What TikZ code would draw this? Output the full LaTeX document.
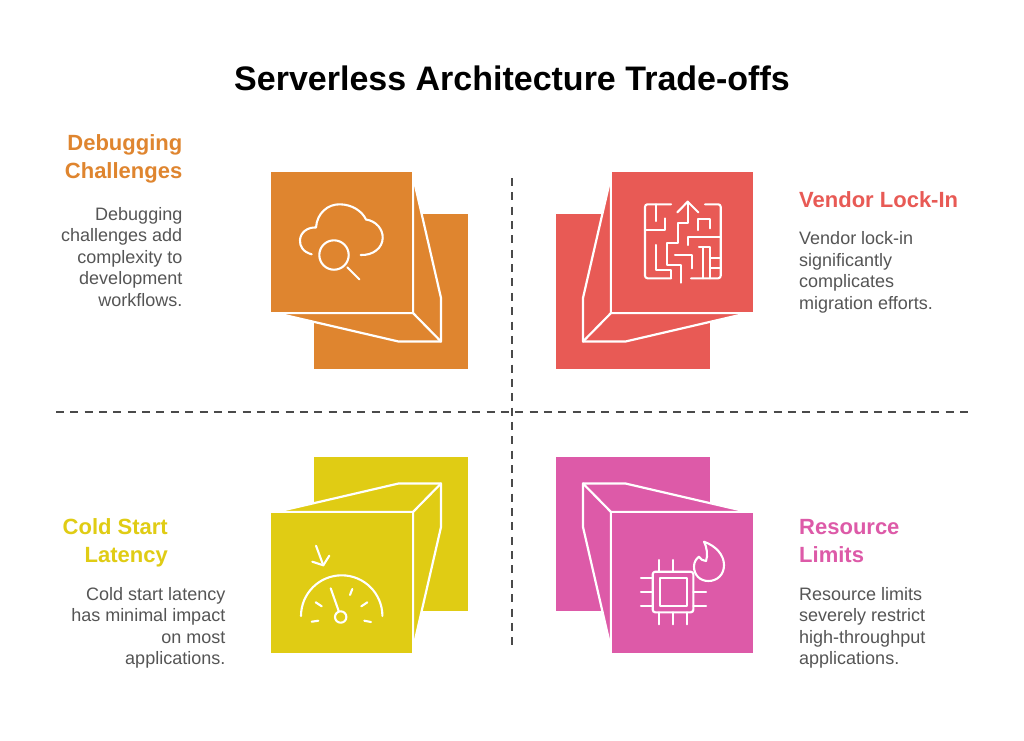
\documentclass[tikz,border=0pt]{standalone}
\usepackage{fontspec}
\setmainfont{Liberation Sans}
\usetikzlibrary{positioning}
\definecolor{debugcolor}{HTML}{DF852F}
\definecolor{vendorcolor}{HTML}{E85A55}
\definecolor{coldcolor}{HTML}{E0CC14}
\definecolor{limitcolor}{HTML}{DD5AA8}
\definecolor{bodygray}{HTML}{555555}
\definecolor{dashgray}{HTML}{4A4A4A}
\newcommand{\tradecard}[2]{
  \begin{scope}[#2]
    \fill[#1] (314,214) rectangle (468.3,368.5);
    \fill[#1] (412,172) -- (441,298) -- (441,341.5) -- (398.5,341.5) -- (271.5,312) -- cycle;
    \draw[cardline] (412,172) -- (441,298) -- (441,341.5) -- (398.5,341.5) -- (271.5,312);
    \draw[cardline] (413,172) -- (413,313) -- (271,313) (413,313) -- (441,341.5);
    \fill[#1] (271.3,172) rectangle (412,312);
  \end{scope}
}
\tikzset{
  cardline/.style={draw=white,line width=2.2pt,line cap=round,line join=round},
  iconline/.style={draw=white,line width=2.1pt,line cap=round,line join=round},
  headtext/.style={font=\fontsize{22}{28}\selectfont\bfseries,inner sep=0pt},
  bodytext/.style={font=\fontsize{18}{21.5}\selectfont,text=bodygray,inner sep=0pt},
  axisline/.style={dashgray,line width=2.2pt,dash pattern=on 8pt off 6.35pt}
}
\begin{document}
\begin{tikzpicture}[x=1pt,y=-1pt]
  \useasboundingbox[fill=white] (0,0) rectangle (1024,740);
  \node[font=\fontsize{34}{40}\selectfont\bfseries,inner sep=0pt] (title) at (512,78) {Serverless Architecture Trade-offs};

  \draw[axisline] (56,412) -- (968,412);
  \draw[axisline] (512,178) -- (512,648);

  \tradecard{debugcolor}{}
  \tradecard{vendorcolor}{xshift=1024pt,xscale=-1}
  \tradecard{coldcolor}{yshift=-825pt,yscale=-1}
  \tradecard{limitcolor}{xshift=1024pt,xscale=-1,yshift=-825pt,yscale=-1}

  % cloud
  \draw[iconline] (311.7,254.3) .. controls (303,252) and (299.5,246) .. (300,240)
    .. controls (300.5,232) and (308,227) .. (316,227.5)
    .. controls (317,213) and (328,204) .. (340,204.3)
    .. controls (352,204.5) and (362,211) .. (366,219.5)
    .. controls (376,221) and (383,229) .. (382.7,238)
    .. controls (382.5,248) and (373,255.5) .. (360.7,255);
  \draw[iconline] (334,255) circle (14.7);
  \draw[iconline] (347.3,267.3) -- (359.3,279.3);

  % maze
  \begin{scope}[iconline]
    \draw[rounded corners=2.5pt] (671,204.3) -- (645,204.3) -- (645,278.3) -- (671,278.3);
    \draw[rounded corners=2.5pt] (705,204.3) -- (720.7,204.3) -- (720.7,278.3) -- (691,278.3);
    \draw (655.7,204.3) -- (655.7,221);
    \draw (645,230) -- (665,230) -- (665,218.3);
    \draw (655.7,245) -- (655.7,270) -- (671,270) -- (671,278.3);
    \draw (687.7,201.7) -- (687.7,223.3) -- (677.7,223.3) -- (677.7,243.3) -- (666.7,243.3) -- (666.7,265) -- (681,265) -- (681,282.7);
    \draw (677.3,212.3) -- (687.7,201.7) -- (698.3,212.3);
    \draw (675,255) -- (691.7,255) -- (691.7,268.3);
    \draw (698.3,230) -- (698.3,219.3) -- (710,219.3) -- (710,228.3);
    \draw (688.3,245) -- (688.3,237.3) -- (720.7,237.3);
    \draw (699,247.3) -- (710,247.3) -- (710,278.3);
    \draw (703.3,247.3) -- (703.3,278.3);
    \draw (710,258.3) -- (720.7,258.3);
    \draw (710,268.3) -- (720.7,268.3);
  \end{scope}

  % gauge
  \begin{scope}[iconline]
    \draw (301,616) arc[start angle=180,end angle=360,radius=40.7];
    \draw (340.7,617) circle (5.7);
    \draw (330.7,588.3) -- (338.7,611);
    \draw (311.7,621.7) -- (318.3,620.7);
    \draw (315.7,602.3) -- (321.7,606.3);
    \draw (352.3,589) -- (350,595);
    \draw (367.3,602.3) -- (361.3,606.3);
    \draw (364.3,620.7) -- (371,622);
    \draw (316,545.7) -- (323.3,565.3);
    \draw (312.3,561.7) -- (323.3,565.3) -- (329.3,555.7);
  \end{scope}

  % chip and flame
  \begin{scope}[iconline]
    \draw[rounded corners=2.5pt] (652.7,571.7) rectangle (693.3,612.3);
    \draw (660,578.3) rectangle (686.7,605.7);
    \foreach \pinx in {659.3,673.3} {\draw (\pinx,560) -- (\pinx,571.7);}
    \foreach \pinx in {659.3,673.3,687.3} {\draw (\pinx,612.3) -- (\pinx,624.3);}
    \foreach \piny in {577.7,591.7,605.7} {\draw (641,\piny) -- (652.7,\piny);}
    \foreach \piny in {591.7,605.7} {\draw (693.3,\piny) -- (706,\piny);}
    \draw (704,541.7) .. controls (716,546) and (724,555) .. (724,565)
      .. controls (724,575) and (717,581) .. (708.3,581)
      .. controls (700,581) and (694,575) .. (694,566.7)
      .. controls (694,562) and (696,559) .. (699,556.7)
      .. controls (700,559) and (703,561) .. (706,561)
      .. controls (708,556) and (707,547) .. (704,541.7) -- cycle;
  \end{scope}

  % labels
  \node[headtext,text=debugcolor,align=right,anchor=north east] (debughead) at (182.5,134) {Debugging\\Challenges};
  \node[bodytext,align=right,below=24pt of debughead.south east,anchor=north east] (debugbody) {Debugging\\challenges add\\complexity to\\development\\workflows.};
  \node[headtext,text=vendorcolor,align=left,anchor=north west] (vendorhead) at (799,191) {Vendor Lock-In};
  \node[bodytext,align=left,below=24pt of vendorhead.south west,anchor=north west] (vendorbody) {Vendor lock-in\\significantly\\complicates\\migration efforts.};
  \node[headtext,text=coldcolor,align=right,anchor=north east] (coldhead) at (168,518) {Cold Start\\Latency};
  \node[bodytext,align=right,anchor=north east] (coldbody) at (225.5,587) {Cold start latency\\has minimal impact\\on most\\applications.};
  \node[headtext,text=limitcolor,align=left,anchor=north west] (limithead) at (799,519) {Resource\\Limits};
  \node[bodytext,align=left,below=24pt of limithead.south west,anchor=north west] (limitbody) {Resource limits\\severely restrict\\high-throughput\\applications.};
\end{tikzpicture}
\end{document}
